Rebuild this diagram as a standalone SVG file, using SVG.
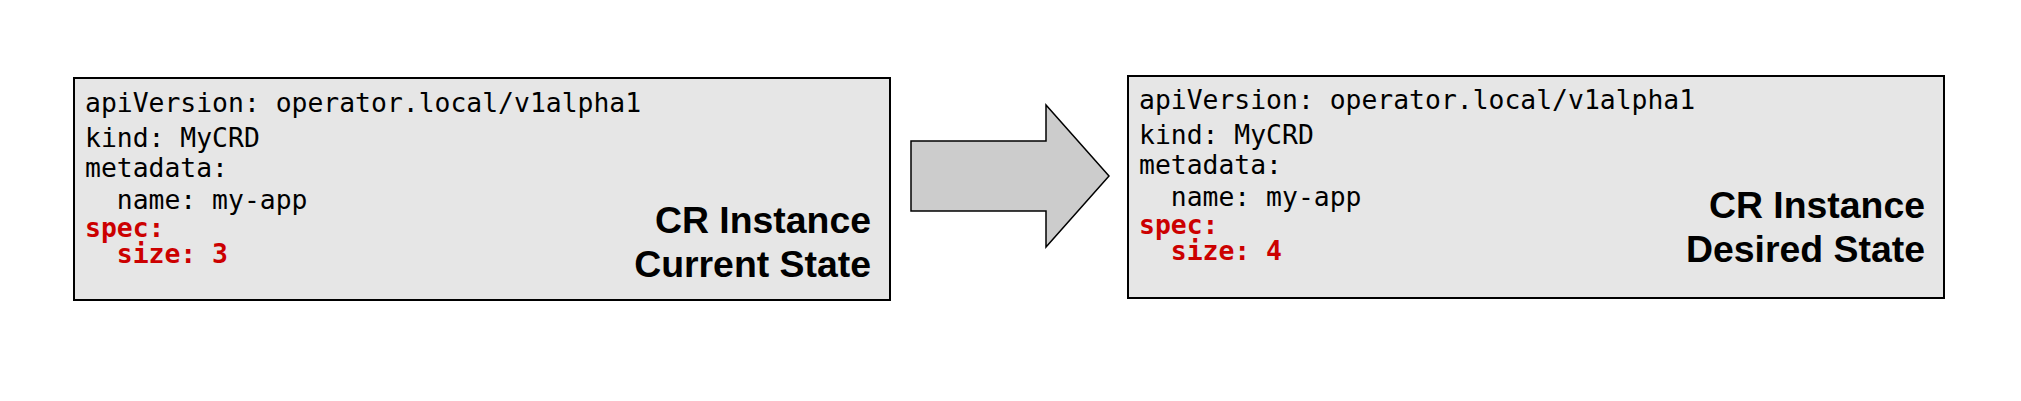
<svg xmlns="http://www.w3.org/2000/svg" width="2021" height="401" viewBox="0 0 2021 401">
<style>
.box{fill:#e6e6e6;stroke:#000;stroke-width:2}
.code{font-family:"DejaVu Sans Mono","Liberation Mono",monospace;font-size:26.4px;fill:#000}
.spec{font-family:"DejaVu Sans Mono","Liberation Mono",monospace;font-size:26.4px;font-weight:bold;fill:#cc0000}
.title{font-family:"Liberation Sans",Arial,sans-serif;font-size:37.4px;font-weight:bold;fill:#000;text-anchor:end}
.arrow{fill:#cccccc;stroke:#000;stroke-width:1.5;stroke-linejoin:miter}
</style>
<rect width="2021" height="401" fill="#fff"/>
<g id="current">
<rect class="box" x="74" y="78" width="816" height="222"/>
<text class="code" x="85" y="112">apiVersion: operator.local/v1alpha1</text>
<text class="code" x="85" y="147">kind: MyCRD</text>
<text class="code" x="85" y="177">metadata:</text>
<text class="code" x="85" y="209" xml:space="preserve">  name: my-app</text>
<text class="spec" x="85" y="237">spec:</text>
<text class="spec" x="85" y="263" xml:space="preserve">  size: 3</text>
<text class="title" x="871" y="233">CR Instance</text>
<text class="title" x="871" y="277">Current State</text>
</g>
<g id="connectors">
<polygon class="arrow" points="911,141 1046,141 1046,105 1109,176 1046,247 1046,211 911,211"/>
</g>
<g id="desired">
<rect class="box" x="1128" y="76" width="816" height="222"/>
<text class="code" x="1139" y="109">apiVersion: operator.local/v1alpha1</text>
<text class="code" x="1139" y="144">kind: MyCRD</text>
<text class="code" x="1139" y="174">metadata:</text>
<text class="code" x="1139" y="206" xml:space="preserve">  name: my-app</text>
<text class="spec" x="1139" y="234">spec:</text>
<text class="spec" x="1139" y="260" xml:space="preserve">  size: 4</text>
<text class="title" x="1925" y="218">CR Instance</text>
<text class="title" x="1925" y="262">Desired State</text>
</g>
</svg>
